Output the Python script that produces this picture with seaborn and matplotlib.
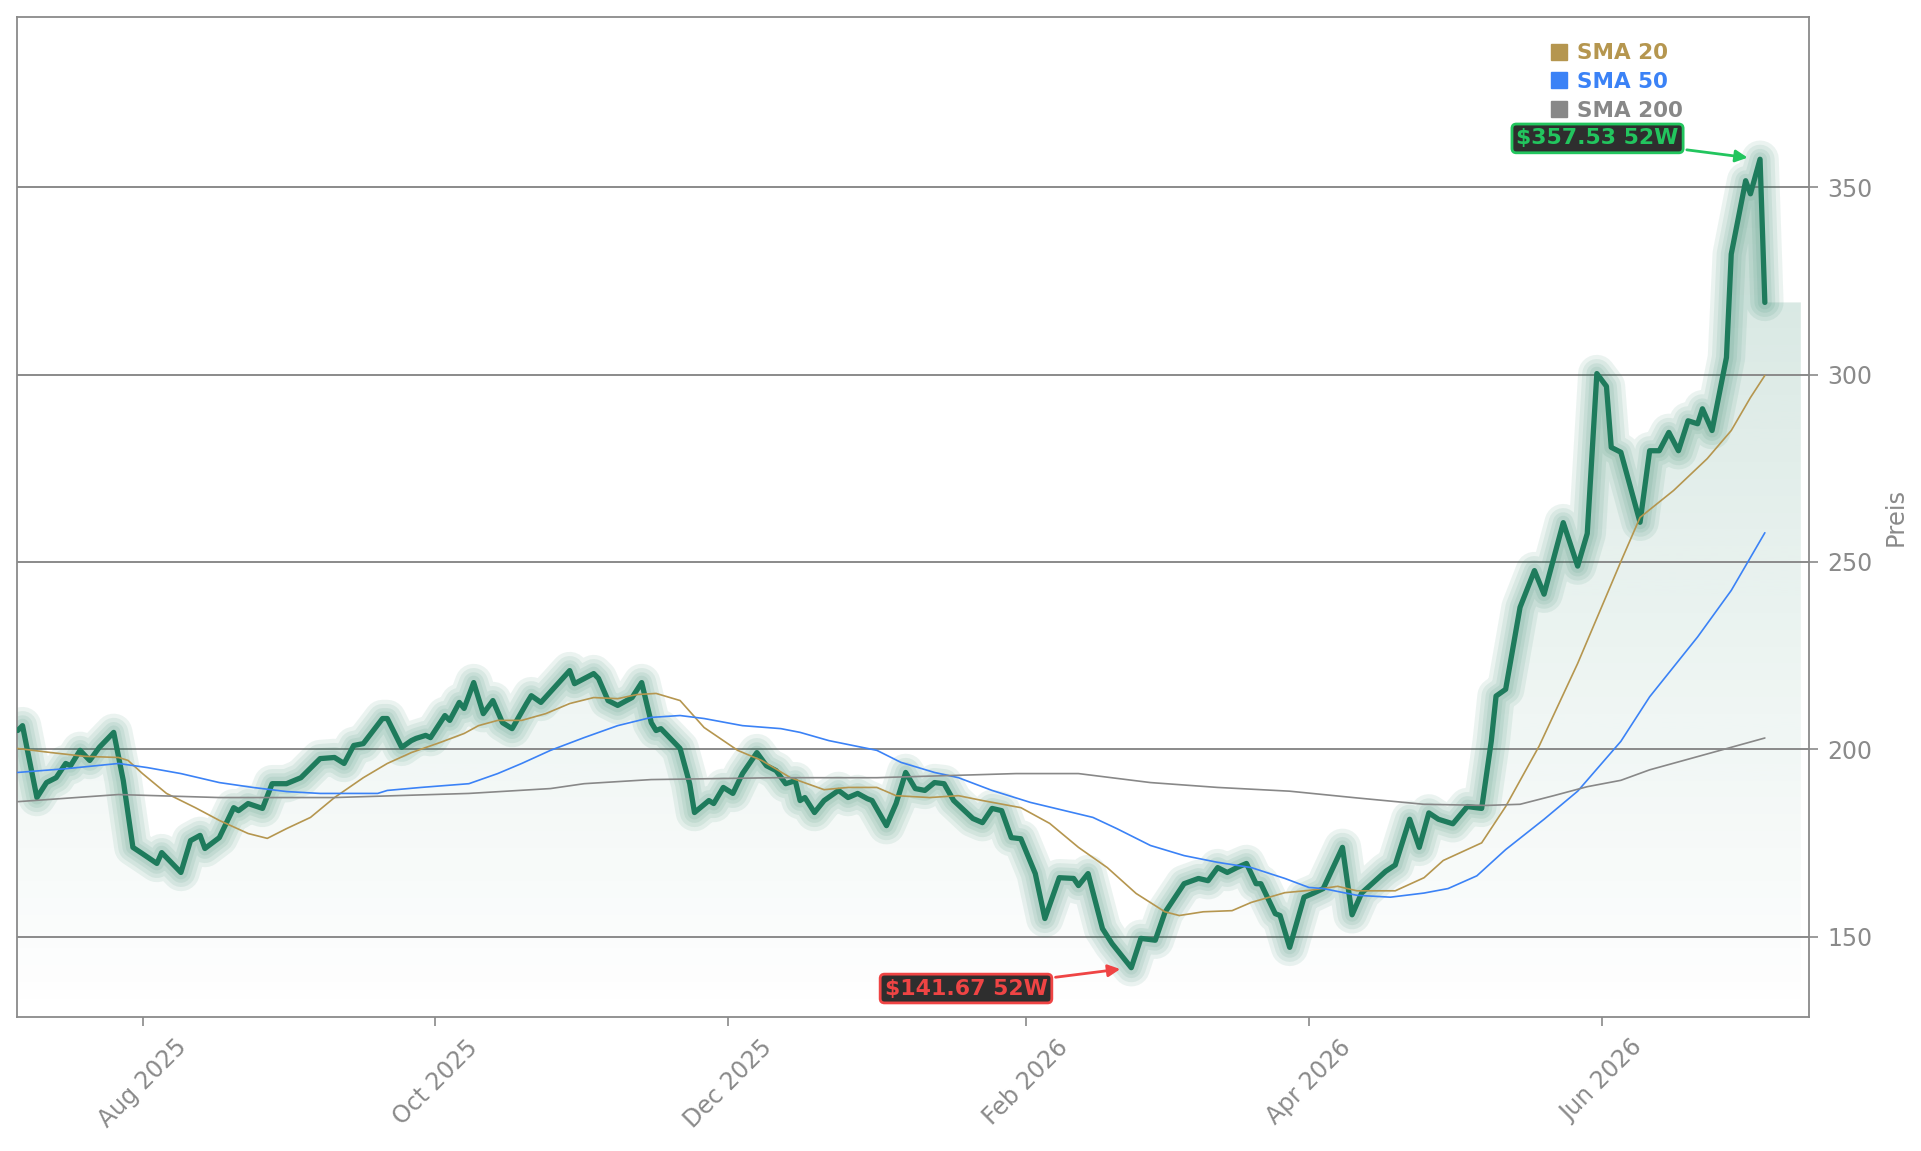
import numpy as np
import pandas as pd
import matplotlib
matplotlib.use("Agg")
import matplotlib.pyplot as plt
import matplotlib.dates as mdates
from matplotlib.colors import to_rgb
from matplotlib.lines import Line2D
from matplotlib.patches import Polygon
import seaborn as sns

# price vertices
price_dates = [
    "2025-07-06", "2025-07-07", "2025-07-10", "2025-07-12", "2025-07-14", "2025-07-16", "2025-07-17",
    "2025-07-19", "2025-07-21", "2025-07-23", "2025-07-26", "2025-07-28", "2025-07-30", "2025-08-01",
    "2025-08-04", "2025-08-05", "2025-08-09", "2025-08-11", "2025-08-13", "2025-08-14", "2025-08-17",
    "2025-08-20", "2025-08-21", "2025-08-23", "2025-08-26", "2025-08-28", "2025-08-31", "2025-09-03",
    "2025-09-07", "2025-09-10", "2025-09-12", "2025-09-14", "2025-09-16", "2025-09-20", "2025-09-21",
    "2025-09-24", "2025-09-26", "2025-09-27", "2025-09-29", "2025-09-30", "2025-10-03", "2025-10-04",
    "2025-10-06", "2025-10-07", "2025-10-09", "2025-10-11", "2025-10-13", "2025-10-15", "2025-10-17",
    "2025-10-20", "2025-10-21", "2025-10-23", "2025-10-29", "2025-10-30", "2025-11-03", "2025-11-04",
    "2025-11-06", "2025-11-08", "2025-11-11", "2025-11-13", "2025-11-15", "2025-11-16", "2025-11-17",
    "2025-11-21", "2025-11-23", "2025-11-24", "2025-11-27", "2025-11-28", "2025-11-30", "2025-12-02",
    "2025-12-04", "2025-12-07", "2025-12-09", "2025-12-11", "2025-12-13", "2025-12-15", "2025-12-16",
    "2025-12-17", "2025-12-19", "2025-12-21", "2025-12-24", "2025-12-26", "2025-12-28", "2025-12-30",
    "2025-12-31", "2026-01-03", "2026-01-05", "2026-01-07", "2026-01-09", "2026-01-11", "2026-01-13",
    "2026-01-15", "2026-01-17", "2026-01-21", "2026-01-23", "2026-01-25", "2026-01-27", "2026-01-29",
    "2026-01-31", "2026-02-03", "2026-02-05", "2026-02-08", "2026-02-11", "2026-02-12", "2026-02-14",
    "2026-02-17", "2026-02-19", "2026-02-23", "2026-02-25", "2026-02-28", "2026-03-02", "2026-03-06",
    "2026-03-09", "2026-03-11", "2026-03-13", "2026-03-15", "2026-03-17", "2026-03-19", "2026-03-21",
    "2026-03-22", "2026-03-25", "2026-03-26", "2026-03-28", "2026-03-31", "2026-04-02", "2026-04-04",
    "2026-04-08", "2026-04-10", "2026-04-12", "2026-04-17", "2026-04-19", "2026-04-22", "2026-04-24",
    "2026-04-26", "2026-04-28", "2026-05-01", "2026-05-04", "2026-05-07", "2026-05-09", "2026-05-10",
    "2026-05-12", "2026-05-15", "2026-05-18", "2026-05-20", "2026-05-24", "2026-05-27", "2026-05-29",
    "2026-05-31", "2026-06-02", "2026-06-03", "2026-06-05", "2026-06-09", "2026-06-11", "2026-06-13",
    "2026-06-15", "2026-06-17", "2026-06-19", "2026-06-21", "2026-06-22", "2026-06-24", "2026-06-27",
    "2026-06-28", "2026-07-01", "2026-07-02", "2026-07-04", "2026-07-05",
]
price_values = [
    205.0, 206.3, 187.1, 191.1, 192.4, 196.2, 195.6,
    199.7, 197.0, 200.5, 204.5, 191.6, 173.8, 172.1,
    169.5, 172.4, 167.1, 175.6, 177.0, 173.5, 176.4,
    184.4, 183.6, 185.5, 184.2, 190.8, 190.8, 192.4,
    197.5, 197.8, 196.2, 201.0, 201.5, 208.2, 208.2,
    200.5, 202.3, 202.9, 203.7, 203.1, 209.0, 207.7,
    212.5, 210.9, 217.8, 209.5, 213.0, 207.1, 205.5,
    212.2, 214.3, 212.5, 221.0, 217.5, 220.2, 218.9,
    213.0, 211.7, 213.8, 217.8, 207.1, 205.0, 205.5,
    200.2, 190.8, 183.1, 186.3, 185.5, 189.8, 188.2,
    193.5, 199.1, 195.6, 194.3, 190.8, 191.6, 186.3,
    187.1, 183.1, 186.3, 189.0, 187.1, 188.2, 186.8,
    186.3, 179.6, 185.5, 193.8, 189.5, 189.0, 191.1,
    190.8, 186.3, 181.5, 180.4, 184.2, 183.6, 176.4,
    176.1, 166.8, 154.8, 165.7, 165.5, 163.6, 166.8,
    152.1, 148.1, 141.67, 149.5, 149.0, 156.4, 164.1,
    165.5, 164.9, 168.4, 167.1, 168.4, 169.5, 164.1,
    164.1, 156.1, 155.6, 147.1, 160.5, 161.6, 162.8,
    173.8, 155.8, 161.6, 167.4, 169.1, 181.3, 173.8,
    183.0, 181.3, 180.1, 184.7, 184.2, 202.1, 214.2,
    216.0, 237.9, 247.7, 241.4, 260.5, 248.9, 257.6,
    300.3, 296.9, 280.6, 279.3, 260.6, 279.7, 279.7,
    284.6, 279.7, 287.7, 286.9, 290.9, 285.1, 304.6,
    332.2, 351.8, 348.3, 357.53, 319.3,
]

sma20_dates = [
    "2025-07-06", "2025-07-13", "2025-07-20", "2025-07-27", "2025-07-29", "2025-08-01", "2025-08-06",
    "2025-08-12", "2025-08-17", "2025-08-23", "2025-08-27", "2025-08-31", "2025-09-05", "2025-09-10",
    "2025-09-16", "2025-09-21", "2025-09-26", "2025-10-02", "2025-10-07", "2025-10-10", "2025-10-14",
    "2025-10-19", "2025-10-24", "2025-10-29", "2025-11-03", "2025-11-08", "2025-11-12", "2025-11-16",
    "2025-11-21", "2025-11-26", "2025-12-03", "2025-12-08", "2025-12-14", "2025-12-21", "2025-12-26",
    "2026-01-01", "2026-01-05", "2026-01-12", "2026-01-18", "2026-01-23", "2026-01-31", "2026-02-06",
    "2026-02-12", "2026-02-18", "2026-02-24", "2026-03-02", "2026-03-05", "2026-03-10", "2026-03-16",
    "2026-03-20", "2026-03-27", "2026-04-01", "2026-04-07", "2026-04-11", "2026-04-19", "2026-04-25",
    "2026-04-29", "2026-05-07", "2026-05-12", "2026-05-19", "2026-05-27", "2026-06-05", "2026-06-09",
    "2026-06-16", "2026-06-23", "2026-06-28", "2026-07-02", "2026-07-05",
]
sma20_values = [
    200.2, 199.1, 198.1, 197.8, 197.0, 193.5, 188.2,
    184.4, 181.0, 177.5, 176.2, 178.8, 181.8, 187.1,
    192.4, 196.2, 199.1, 201.8, 204.2, 206.3, 207.7,
    207.7, 209.5, 212.2, 213.8, 213.5, 214.6, 214.9,
    213.0, 205.8, 199.7, 197.0, 192.4, 189.2, 189.8,
    189.8, 187.6, 187.1, 187.6, 186.3, 184.4, 180.2,
    173.8, 168.4, 161.5, 156.6, 155.6, 156.6, 156.9,
    159.1, 161.7, 162.3, 163.4, 162.2, 162.2, 165.7,
    170.3, 175.0, 184.7, 200.9, 222.9, 250.1, 261.9,
    269.1, 277.6, 285.1, 293.9, 299.8,
]

sma50_dates = [
    "2025-07-06", "2025-07-16", "2025-07-27", "2025-08-02", "2025-08-09", "2025-08-17", "2025-08-24",
    "2025-08-31", "2025-09-07", "2025-09-19", "2025-09-21", "2025-09-28", "2025-10-08", "2025-10-14",
    "2025-10-19", "2025-10-25", "2025-11-01", "2025-11-08", "2025-11-15", "2025-11-21", "2025-11-26",
    "2025-12-04", "2025-12-12", "2025-12-16", "2025-12-22", "2026-01-01", "2026-01-06", "2026-01-13",
    "2026-01-18", "2026-01-25", "2026-02-02", "2026-02-15", "2026-02-20", "2026-02-27", "2026-03-06",
    "2026-03-13", "2026-03-20", "2026-03-27", "2026-04-01", "2026-04-04", "2026-04-11", "2026-04-18",
    "2026-04-25", "2026-04-30", "2026-05-06", "2026-05-12", "2026-05-20", "2026-05-27", "2026-06-05",
    "2026-06-11", "2026-06-21", "2026-06-28", "2026-07-05",
]
sma50_values = [
    193.8, 194.8, 196.2, 195.1, 193.5, 191.1, 189.8,
    188.7, 188.2, 188.2, 189.0, 189.8, 190.8, 193.5,
    196.2, 199.7, 203.1, 206.3, 208.5, 209.0, 208.2,
    206.3, 205.5, 204.5, 202.3, 199.7, 196.5, 193.8,
    192.4, 189.0, 185.8, 181.8, 178.8, 174.3, 171.6,
    169.8, 168.4, 165.5, 163.1, 162.8, 161.0, 160.5,
    161.6, 162.8, 166.2, 173.2, 181.3, 188.8, 202.1,
    214.0, 230.0, 242.4, 257.8,
]

sma200_dates = [
    "2025-07-06", "2025-07-27", "2025-08-17", "2025-09-10", "2025-10-08", "2025-10-25", "2025-11-01",
    "2025-11-15", "2025-12-11", "2026-01-01", "2026-01-30", "2026-02-12", "2026-02-27", "2026-03-13",
    "2026-03-28", "2026-04-11", "2026-04-25", "2026-05-08", "2026-05-15", "2026-05-22", "2026-05-29",
    "2026-06-05", "2026-06-11", "2026-06-24", "2026-07-05",
]
sma200_values = [
    186.0, 187.9, 187.1, 187.1, 188.2, 189.5, 190.8,
    191.9, 192.4, 192.4, 193.5, 193.5, 191.1, 189.8,
    188.8, 187.0, 185.3, 185.0, 185.3, 187.6, 190.0,
    191.7, 194.5, 199.1, 203.0,
]

sma_labels = ["SMA 20", "SMA 50", "SMA 200"]
sma_colors = ["#b5964f", "#3b82f6", "#888888"]

line_color = "#1e7b5c"
grey = "#8a8a8a"

sns.set_theme(style="white")
plt.rcParams["font.family"] = ["DejaVu Sans"]

price = pd.DataFrame({"date": pd.to_datetime(price_dates), "price": price_values})
smas = [
    pd.DataFrame({"date": pd.to_datetime(d), "value": v})
    for d, v in [(sma20_dates, sma20_values), (sma50_dates, sma50_values), (sma200_dates, sma200_values)]
]

fig = plt.figure(figsize=(19.21, 11.51), dpi=100)
ax = fig.add_axes([0.0087, 0.1164, 0.933, 0.8688])

y_lo, y_hi = 128.5, 395.5
x_lo = price["date"].iloc[0] - pd.Timedelta(hours=5)
x_hi = price["date"].iloc[-1] + pd.Timedelta(days=9.2)
fill_end = price["date"].iloc[-1] + pd.Timedelta(days=7.5)

# gradient fill under the price, clipped to the area below the line
xn = mdates.date2num(price["date"])
xe = mdates.date2num(fill_end)
verts = [(xn[0], y_lo)] + list(zip(xn, price["price"])) + [(xe, price["price"].iloc[-1]), (xe, y_lo)]
clip = Polygon(verts, closed=True, fc="none", ec="none")
ax.add_patch(clip)
grad = np.zeros((256, 1, 4))
grad[..., :3] = to_rgb(line_color)
grad[..., 3] = np.linspace(0, 0.2, 256)[:, None]
im = ax.imshow(grad, extent=[xn[0], xe, y_lo, max(price_values)], origin="lower",
               aspect="auto", zorder=0.3, interpolation="bilinear")
im.set_clip_path(clip)

# glow around the price line
for lw in [27, 21, 15, 10]:
    ax.plot(price["date"], price["price"], color=line_color, lw=lw, alpha=0.085,
            solid_capstyle="round", solid_joinstyle="round", zorder=2)
sns.lineplot(data=price, x="date", y="price", ax=ax, color=line_color, lw=3.8, zorder=3)

for df, c in zip(smas, sma_colors):
    sns.lineplot(data=df, x="date", y="value", ax=ax, color=c, lw=1.2, zorder=4)

ax.set_xlim(x_lo, x_hi)
ax.set_ylim(y_lo, y_hi)

ax.xaxis.set_major_locator(mdates.MonthLocator(bymonth=[2, 4, 6, 8, 10, 12]))
ax.xaxis.set_major_formatter(mdates.DateFormatter("%b %Y"))
ax.set_yticks([150, 200, 250, 300, 350])
ax.yaxis.tick_right()
ax.yaxis.set_label_position("right")
ax.tick_params(axis="both", colors=grey, labelcolor=grey, labelsize=17,
               length=6.5, width=1.2, pad=6.5, direction="out")
ax.tick_params(axis="x", bottom=True, labelrotation=45)
ax.tick_params(axis="y", right=True, left=False)
ax.set_xlabel("")
ax.set_ylabel("Preis", color=grey, fontsize=17.5, labelpad=8)

ax.yaxis.grid(True, color=grey, lw=1.4)
ax.xaxis.grid(False)
ax.set_axisbelow(True)
for s in ax.spines.values():
    s.set_color(grey)
    s.set_linewidth(1.3)

# 52 week high / low
hi_i = int(np.argmax(price_values))
lo_i = int(np.argmin(price_values))
ax.annotate(f"${price_values[hi_i]:.2f} 52W", xy=(price["date"][hi_i], price_values[hi_i]),
            xytext=(-117, 15), textcoords="offset points", ha="center", va="center",
            color="#22c55e", fontsize=15.8, fontweight="bold", zorder=6,
            bbox=dict(boxstyle="round,pad=0.2", fc="#2e2e2e", ec="#22c55e", lw=2),
            arrowprops=dict(arrowstyle="-|>", color="#22c55e", lw=2, mutation_scale=18, shrinkB=9))
ax.annotate(f"${price_values[lo_i]:.2f} 52W", xy=(price["date"][lo_i], price_values[lo_i]),
            xytext=(-119, -15), textcoords="offset points", ha="center", va="center",
            color="#ef4444", fontsize=15.8, fontweight="bold", zorder=6,
            bbox=dict(boxstyle="round,pad=0.2", fc="#2e2e2e", ec="#ef4444", lw=2),
            arrowprops=dict(arrowstyle="-|>", color="#ef4444", lw=2, mutation_scale=18, shrinkB=8))

handles = [Line2D([], [], marker="s", ls="", color=c, markersize=12) for c in sma_colors]
leg = ax.legend(handles, sma_labels, loc="upper left", bbox_to_anchor=(0.845, 0.993),
                frameon=False, handlelength=0.8, handletextpad=0.45, labelspacing=0.4,
                borderpad=0.4, prop={"weight": "bold", "size": 15.5})
for t, c in zip(leg.get_texts(), sma_colors):
    t.set_color(c)

fig.savefig("out.png", dpi=100, facecolor="white")
